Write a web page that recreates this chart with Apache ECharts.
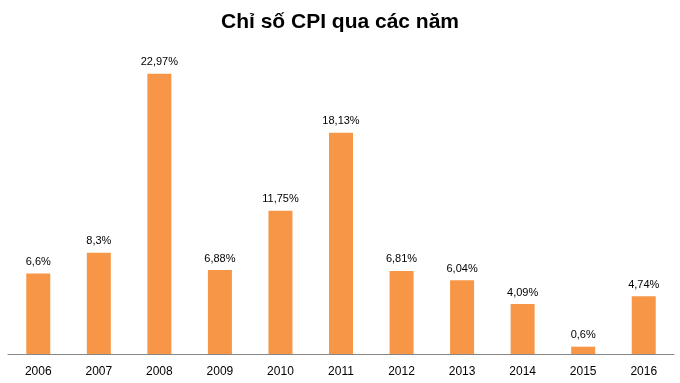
<!DOCTYPE html>
<html><head><meta charset="utf-8">
<script src="https://cdn.jsdelivr.net/npm/echarts@6/dist/echarts.min.js"></script>
<style>html,body{margin:0;padding:0;background:#fff}#c{width:680px;height:383px}</style>
</head><body><div id="c"></div>
<script>
const titleText = "Chỉ số CPI qua các năm";
const years = ["2006","2007","2008","2009","2010","2011","2012","2013","2014","2015","2016"];
const cpi = [6.6, 8.3, 22.97, 6.88, 11.75, 18.13, 6.81, 6.04, 4.09, 0.6, 4.74];
const cpiLabels = ["6,6%","8,3%","22,97%","6,88%","11,75%","18,13%","6,81%","6,04%","4,09%","0,6%","4,74%"];

const chart = echarts.init(document.getElementById('c'), null, {renderer:'canvas'});
chart.setOption({
  animation: false,
  title: {
    text: titleText, left: 'center', top: 7,
    textStyle: {fontFamily: 'Liberation Sans, Arial, sans-serif', fontSize: 21, fontWeight: 'bold', color: '#000'}
  },
  grid: {left: 8, right: 6, top: 49, bottom: 29, containLabel: false},
  xAxis: {
    type: 'category', data: years,
    axisLine: {lineStyle: {color: '#868686', width: 1}},
    axisTick: {show: false},
    axisLabel: {margin: 12, fontFamily: 'Liberation Sans, Arial, sans-serif', fontSize: 12, color: '#000'}
  },
  yAxis: {type: 'value', min: 0, max: 25, show: false, splitLine: {show: false}},
  series: [{
    type: 'bar', data: cpi, barWidth: 24,
    itemStyle: {color: '#F79646'},
    label: {
      show: true, position: 'top', distance: 6,
      fontFamily: 'Liberation Sans, Arial, sans-serif', fontSize: 11, color: '#000',
      formatter: p => cpiLabels[p.dataIndex]
    }
  }]
});
</script></body></html>
